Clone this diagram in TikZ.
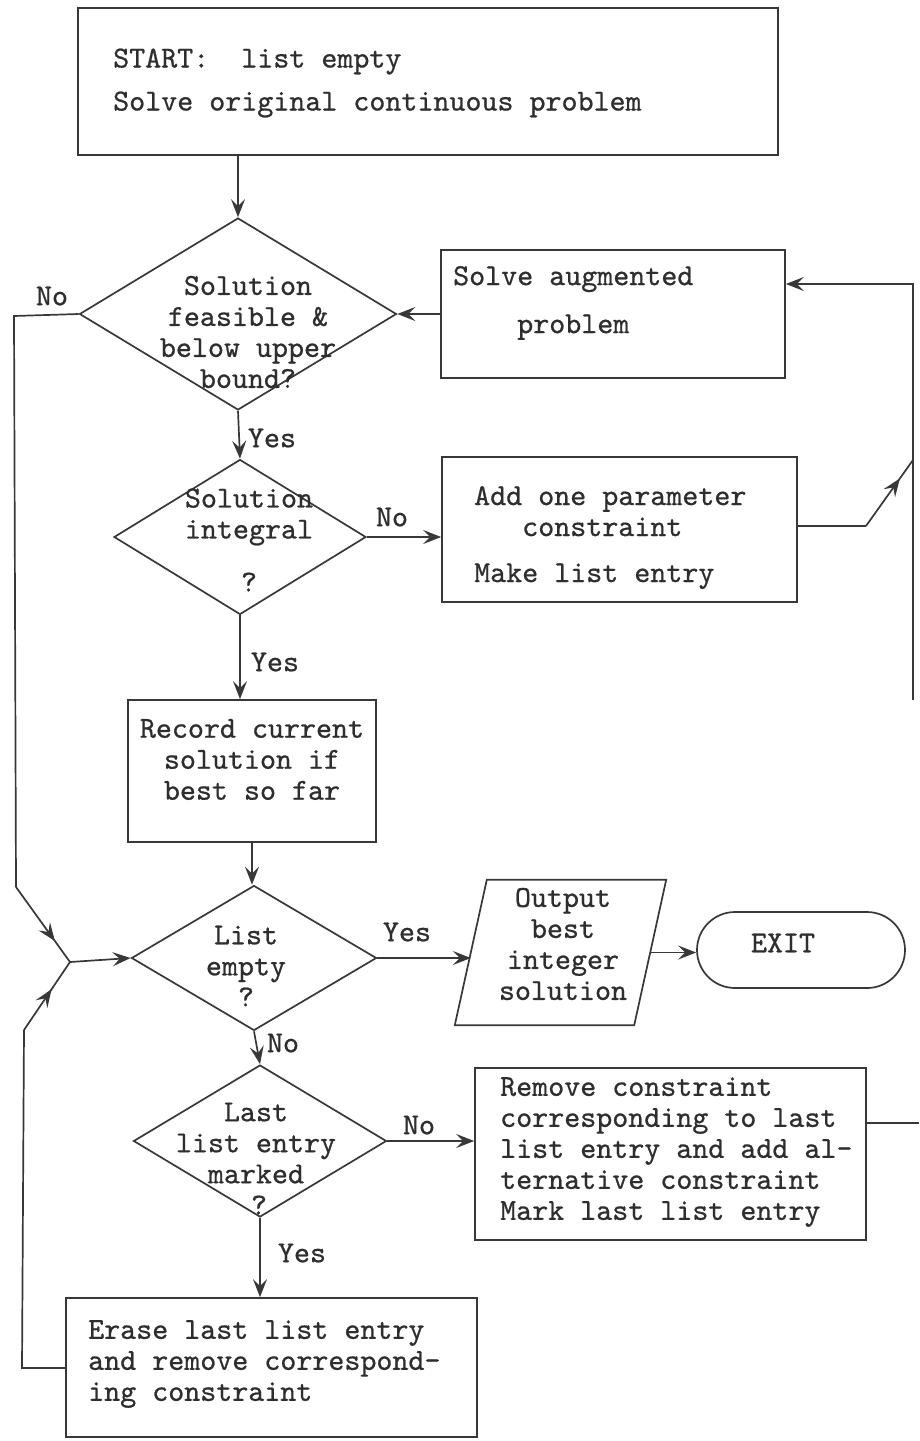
\documentclass[tikz,border=0pt]{standalone}
\usepackage{fontspec}
\newfontfamily\typewriter{lmmono10-regular}[Extension=.otf, FakeBold=0.7]
\usetikzlibrary{shapes.geometric,shapes.misc,arrows.meta,decorations.markings,calc}
\begin{document}
\begin{tikzpicture}[x=1pt,y=-1pt,
  ink/.style={draw=black!78, line width=1.7pt},
  box/.style={ink, rectangle, inner sep=0pt},
  dia/.style={ink, diamond, inner sep=0pt},
  txt/.style={text=black!82, font=\fontsize{30.5}{31}\selectfont\typewriter, inner sep=0pt},
  tip/.tip={Stealth[length=18pt,width=14pt,inset=7pt]},
  arr/.style={ink, -tip},
  midarr/.style={ink, postaction={decorate},
    decoration={markings, mark=at position #1 with {\arrow{tip}}}},
]
\fill[white] (0,0) rectangle (919,1441);
\useasboundingbox (0,0) rectangle (919,1441);
\clip (0,0) rectangle (919,1441);

% ---- boxes ----
\node[box, minimum width=700pt, minimum height=147pt] (start) at (428,81.5) {};
\node[txt, anchor=west, align=left] (startt) at (113,83)
  {START:\ \ list empty\\[12pt]Solve original continuous problem};

\node[box, minimum width=344pt, minimum height=128pt] (aug) at (613,314) {};
\node[txt, anchor=west, align=left] (augt) at (453,303)
  {Solve augmented\\[17pt]\hphantom{Solv}problem};

\node[box, minimum width=355pt, minimum height=145pt] (add) at (619.5,529.5) {};
\node[txt, anchor=west, align=left] (addt) at (474,537.5)
  {Add one parameter\\\hphantom{Add}constraint\\[15pt]Make list entry};

\node[box, minimum width=248pt, minimum height=142pt] (rec) at (252,771) {};
\node[txt, align=center] (rect) at (252,759.5)
  {Record current\\solution if\\best so far};

\node[box, minimum width=391pt, minimum height=172pt] (rem) at (670.5,1154) {};
\node[txt, anchor=west, align=left] (remt) at (500,1152)
  {Remove constraint\\corresponding to last\\list entry and add al-\\ternative constraint\\Mark last list entry};

\node[box, minimum width=411pt, minimum height=139pt] (era) at (271.5,1367.5) {};
\node[txt, anchor=west, align=left] (erat) at (88,1364)
  {Erase last list entry\\and remove correspond-\\ing constraint};

% ---- decisions ----
\node[dia, minimum width=317pt, minimum height=192pt] (d1) at (238,314) {};
\node[txt, align=center] (d1t) at (248,332) {Solution\\feasible \&\\below upper\\bound?};

\node[dia, minimum width=252pt, minimum height=155pt] (d2) at (240,537) {};
\node[txt, align=center] (d2t) at (249,540) {Solution\\integral\\[22pt]?};

\node[dia, minimum width=245pt, minimum height=145pt] (d3) at (254,958) {};
\node[txt, align=center] (d3t) at (246,966) {List\\empty\\?};

\node[dia, minimum width=253pt, minimum height=152pt] (d4) at (260,1141) {};
\node[txt, align=center] (d4t) at (256,1143) {Last\\list entry\\marked};
\node[txt] (d4q) at (259,1205) {?};

% ---- output (slanted box) and exit ----
\node[inner sep=0pt, minimum width=179pt, minimum height=145pt] (para) at (560.5,952.5) {};
\draw[ink] ($(para.south west)+(-16,0)$) -- ($(para.north west)+(16,0)$)
        -- ($(para.north east)+(16,0)$) -- ($(para.south east)+(-16,0)$) -- cycle;
\node[txt, align=center] (parat) at (563,944) {Output\\best\\integer\\solution};

\node[ink, rounded rectangle, minimum width=208pt, minimum height=76pt, inner sep=0pt] (exit) at (801,950) {};
\node[txt] (exitt) at (783,943) {EXIT};

% ---- free ends and bends ----
\coordinate (rt) at (913,284);
\coordinate (rb) at (913,700);
\coordinate (rj) at (913,460);
\coordinate (rk) at (866,526);
\coordinate (lt) at (14,316);
\coordinate (lm) at (16,887);
\coordinate (j)  at (70,962);
\coordinate (lb) at (22,1368);
\coordinate (lc) at (24,1030);
\coordinate (rx) at (919,1123);

% ---- connectors ----
\draw[arr] (start.south -| d1.north) -- (d1.north);
\draw[arr] (aug.west) -- (d1.east);
\draw[arr] (rb) -- (rt) -- (rt -| aug.east);
\draw[ink] (rk -| add.east) -- (rk);
\draw[midarr=0.72] (rk) -- (rj);

\draw[arr] (d1.south) -- (d2.north);
\draw[arr] (d2.east) -- (d2.east -| add.west);
\draw[arr] (d2.south) -- (d2.south |- rec.north);
\draw[arr] (rec.south) -- (rec.south |- d3.north);
\draw[arr] (d3.east) -- (d3.east -| para.west);
\draw[arr] (para.east) -- (para.east -| exit.west);
\draw[arr] (d3.south) -- (d4.north);
\draw[arr] (d4.east) -- (d4.east -| rem.west);
\draw[ink] (rx -| rem.east) -- (rx);
\draw[arr] (d4.south) -- (d4.south |- era.north);

\draw[ink] (d1.west) -- (lt) -- (lm);
\draw[midarr=0.72] (lm) -- (j);
\draw[ink] (era.west |- lb) -- (lb) -- (lc);
\draw[midarr=0.6] (lc) -- (j);
\draw[arr] (j) -- (d3.west);

% ---- branch labels ----
\node[txt] (l1) at (52,296) {No};
\node[txt] (l2) at (272,438) {Yes};
\node[txt] (l3) at (392,517) {No};
\node[txt] (l4) at (275,662) {Yes};
\node[txt] (l5) at (407,932) {Yes};
\node[txt] (l6) at (283,1043) {No};
\node[txt] (l7) at (419,1125) {No};
\node[txt] (l8) at (302,1253) {Yes};
\end{tikzpicture}
\end{document}
